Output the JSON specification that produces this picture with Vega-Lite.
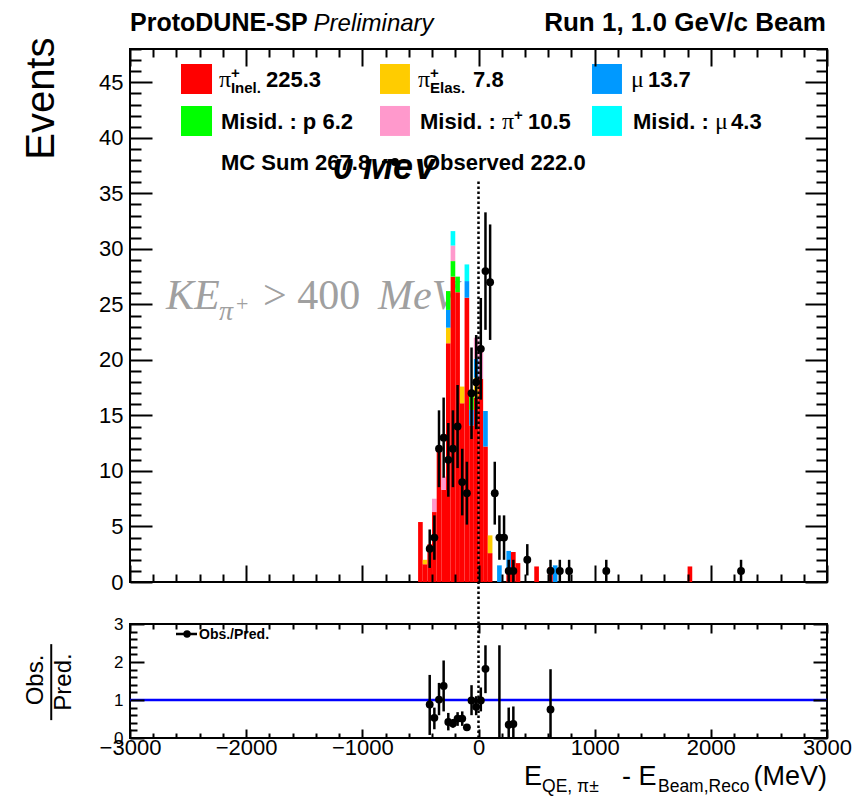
{
"$schema": "https://vega.github.io/schema/vega-lite/v6.json",
"background": "white",
"padding": {"left": 20, "top": 9, "right": 5, "bottom": 5},
"bounds": "flush",
"spacing": 42,
"config": {"font": "Liberation Sans", "view": {"stroke": "black", "strokeWidth": 2}},
"datasets": {
"one": [{}],
"mc": [
{"lo":-520,"hi":-480,"comp":"pi Inel","o":1,"v":5.4},
{"lo":-480,"hi":-440,"comp":"pi Inel","o":1,"v":1.6},
{"lo":-480,"hi":-440,"comp":"pi Elas","o":2,"v":0.4},
{"lo":-440,"hi":-400,"comp":"pi Inel","o":1,"v":3.4},
{"lo":-400,"hi":-360,"comp":"pi Inel","o":1,"v":6.3},
{"lo":-400,"hi":-360,"comp":"Misid pi","o":5,"v":1.2},
{"lo":-360,"hi":-320,"comp":"pi Inel","o":1,"v":11.9},
{"lo":-320,"hi":-280,"comp":"pi Inel","o":1,"v":8.3},
{"lo":-320,"hi":-280,"comp":"Misid pi","o":5,"v":1.2},
{"lo":-280,"hi":-240,"comp":"pi Inel","o":1,"v":21.5},
{"lo":-280,"hi":-240,"comp":"pi Elas","o":2,"v":1.4},
{"lo":-280,"hi":-240,"comp":"mu","o":3,"v":1.6},
{"lo":-280,"hi":-240,"comp":"Misid p","o":4,"v":1.7},
{"lo":-240,"hi":-200,"comp":"pi Inel","o":1,"v":27.5},
{"lo":-240,"hi":-200,"comp":"Misid p","o":4,"v":1.4},
{"lo":-240,"hi":-200,"comp":"Misid pi","o":5,"v":1.4},
{"lo":-240,"hi":-200,"comp":"Misid mu","o":6,"v":1.3},
{"lo":-200,"hi":-160,"comp":"pi Inel","o":1,"v":26.1},
{"lo":-200,"hi":-160,"comp":"Misid p","o":4,"v":1.4},
{"lo":-160,"hi":-120,"comp":"pi Inel","o":1,"v":16.1},
{"lo":-160,"hi":-120,"comp":"pi Elas","o":2,"v":1.5},
{"lo":-120,"hi":-80,"comp":"pi Inel","o":1,"v":25.6},
{"lo":-120,"hi":-80,"comp":"mu","o":3,"v":1.5},
{"lo":-120,"hi":-80,"comp":"Misid mu","o":6,"v":1.5},
{"lo":-80,"hi":-40,"comp":"pi Inel","o":1,"v":14.1},
{"lo":-80,"hi":-40,"comp":"mu","o":3,"v":1.4},
{"lo":-80,"hi":-40,"comp":"Misid p","o":4,"v":1.7},
{"lo":-40,"hi":0,"comp":"pi Inel","o":1,"v":16.6},
{"lo":-40,"hi":0,"comp":"pi Elas","o":2,"v":1.8},
{"lo":-40,"hi":0,"comp":"mu","o":3,"v":1.7},
{"lo":-40,"hi":0,"comp":"Misid pi","o":5,"v":1.9},
{"lo":0,"hi":40,"comp":"pi Inel","o":1,"v":18.3},
{"lo":0,"hi":40,"comp":"Misid pi","o":5,"v":2.9},
{"lo":40,"hi":80,"comp":"pi Inel","o":1,"v":12.2},
{"lo":40,"hi":80,"comp":"mu","o":3,"v":3.2},
{"lo":80,"hi":120,"comp":"pi Inel","o":1,"v":2.6},
{"lo":80,"hi":120,"comp":"pi Elas","o":2,"v":1.6},
{"lo":160,"hi":200,"comp":"mu","o":3,"v":1.5},
{"lo":240,"hi":280,"comp":"pi Inel","o":1,"v":1.0},
{"lo":240,"hi":280,"comp":"mu","o":3,"v":1.8},
{"lo":280,"hi":320,"comp":"pi Inel","o":1,"v":2.7},
{"lo":320,"hi":360,"comp":"pi Inel","o":1,"v":1.7},
{"lo":480,"hi":520,"comp":"pi Inel","o":1,"v":1.4},
{"lo":600,"hi":640,"comp":"pi Inel","o":1,"v":1.33},
{"lo":640,"hi":680,"comp":"mu","o":3,"v":1.5},
{"lo":1800,"hi":1840,"comp":"pi Inel","o":1,"v":1.4}
],
"obs": [
{"c":-420,"n":3,"lo":1.27,"hi":4.73},
{"c":-380,"n":4,"lo":2,"hi":6},
{"c":-340,"n":12,"lo":8.54,"hi":15.46},
{"c":-300,"n":13,"lo":9.39,"hi":16.61},
{"c":-260,"n":11,"lo":7.68,"hi":14.32},
{"c":-220,"n":12,"lo":8.54,"hi":15.46},
{"c":-180,"n":14,"lo":10.26,"hi":17.74},
{"c":-140,"n":9,"lo":6,"hi":12},
{"c":-100,"n":8,"lo":5.17,"hi":10.83},
{"c":-60,"n":17,"lo":12.88,"hi":21.12},
{"c":-20,"n":18,"lo":13.76,"hi":22.24},
{"c":20,"n":21,"lo":16.42,"hi":25.58},
{"c":60,"n":28,"lo":22.71,"hi":33.29},
{"c":100,"n":27,"lo":21.8,"hi":32.2},
{"c":140,"n":8,"lo":5.17,"hi":10.83},
{"c":180,"n":4,"lo":2,"hi":6},
{"c":220,"n":4,"lo":2,"hi":6},
{"c":260,"n":1,"lo":0,"hi":2},
{"c":300,"n":1,"lo":0,"hi":2},
{"c":420,"n":2,"lo":0.59,"hi":3.41},
{"c":620,"n":1,"lo":0,"hi":2},
{"c":700,"n":1,"lo":0,"hi":2},
{"c":780,"n":1,"lo":0,"hi":2},
{"c":1100,"n":1,"lo":0,"hi":2},
{"c":2260,"n":1,"lo":0,"hi":2}
],
"ratio": [
{"c":-420,"r":0.88,"lo":0.08,"hi":1.66},
{"c":-380,"r":0.53,"lo":0.23,"hi":0.8},
{"c":-340,"r":1.01,"lo":0.6,"hi":1.45},
{"c":-300,"r":1.37,"lo":0.7,"hi":2.04},
{"c":-260,"r":0.42,"lo":0.2,"hi":0.66},
{"c":-220,"r":0.38,"lo":0.27,"hi":0.5},
{"c":-180,"r":0.51,"lo":0.32,"hi":0.68},
{"c":-140,"r":0.51,"lo":0.32,"hi":0.7},
{"c":-100,"r":0.28,"lo":0.2,"hi":0.36},
{"c":-60,"r":0.99,"lo":0.6,"hi":1.39},
{"c":-20,"r":0.82,"lo":0.6,"hi":1.1},
{"c":20,"r":0.99,"lo":0.7,"hi":1.33},
{"c":60,"r":1.82,"lo":1.18,"hi":2.44},
{"c":180,"r":null,"lo":0,"hi":2.44},
{"c":260,"r":0.35,"lo":0,"hi":0.8},
{"c":300,"r":0.37,"lo":0,"hi":0.83},
{"c":620,"r":0.75,"lo":0,"hi":1.81}
]
},
"vconcat": [
{
"width": 697, "height": 533,
"resolve": {"axis": {"x": "independent", "y": "independent"}},
"layer": [
{"data":{"name":"one"},"mark":{"type":"text","text":"KE","align":"left","baseline":"alphabetic","font":"Liberation Serif","fontStyle":"italic","fontSize":42,"color":"#a0a0a0"},"encoding":{"x":{"datum":-2690,"axis":null},"y":{"datum":24.59,"axis":null}}},
{"data":{"name":"one"},"mark":{"type":"text","text":"π","align":"left","baseline":"alphabetic","font":"Liberation Serif","fontStyle":"italic","fontSize":28,"color":"#a0a0a0"},"encoding":{"x":{"datum":-2234,"axis":null},"y":{"datum":23.6,"axis":null}}},
{"data":{"name":"one"},"mark":{"type":"text","text":"+","align":"left","baseline":"alphabetic","font":"Liberation Serif","fontSize":22,"color":"#a0a0a0"},"encoding":{"x":{"datum":-2087,"axis":null},"y":{"datum":24.41,"axis":null}}},
{"data":{"name":"one"},"mark":{"type":"text","text":"> 400","align":"left","baseline":"alphabetic","font":"Liberation Serif","fontSize":42,"color":"#a0a0a0"},"encoding":{"x":{"datum":-1855,"axis":null},"y":{"datum":24.59,"axis":null}}},
{"data":{"name":"one"},"mark":{"type":"text","text":"MeV","align":"left","baseline":"alphabetic","font":"Liberation Serif","fontStyle":"italic","fontSize":42,"color":"#a0a0a0"},"encoding":{"x":{"datum":-865,"axis":null},"y":{"datum":24.59,"axis":null}}},
{"data":{"name":"mc"},
 "transform":[{"stack":"v","groupby":["lo"],"sort":[{"field":"o"}],"as":["s0","s1"]}],
 "mark":{"type":"rect"},
 "encoding":{
  "x":{"field":"lo","type":"quantitative","scale":{"domain":[-3000,3000],"nice":false,"zero":false},
       "axis":{"orient":"bottom","values":[-3000,-2800,-2600,-2400,-2200,-2000,-1800,-1600,-1400,-1200,-1000,-800,-600,-400,-200,0,200,400,600,800,1000,1200,1400,1600,1800,2000,2200,2400,2600,2800,3000],"labels":false,"domain":false,"grid":false,"tickColor":"black","tickWidth":2,"tickSize":{"condition":{"test":"datum.value % 1000 === 0","value":-17},"value":-8},"title":null,"zindex":1}},
  "x2":{"field":"hi"},
  "y":{"field":"s0","type":"quantitative","scale":{"domain":[0,48],"nice":false,"zero":false},
       "axis":{"orient":"left","values":[0,1,2,3,4,5,6,7,8,9,10,11,12,13,14,15,16,17,18,19,20,21,22,23,24,25,26,27,28,29,30,31,32,33,34,35,36,37,38,39,40,41,42,43,44,45,46,47,48],"labelExpr":"datum.value % 5 === 0 ? datum.label : ''","labelFontSize":22,"labelColor":"black","labelPadding":29,"labelOverlap":false,"labelFlush":false,"domain":false,"grid":false,"tickColor":"black","tickWidth":2,"tickSize":{"condition":{"test":"datum.value % 5 === 0","value":-22},"value":-11},"title":"Events","titleFontSize":40,"titleFontWeight":"normal","titleColor":"black","titleAnchor":"end","titlePadding":37,"titleY":-12,"zindex":1}},
  "y2":{"field":"s1"},
  "color":{"field":"comp","type":"nominal","scale":{"domain":["pi Inel","pi Elas","mu","Misid p","Misid pi","Misid mu"],"range":["#ff0000","#ffcc00","#0099ff","#00ff00","#ff99cc","#00ffff"]},"legend":null}
 }},
{"data":{"name":"one"},"mark":{"type":"rule","strokeDash":[2.5,2.5],"strokeWidth":2.5,"color":"black"},"encoding":{"x":{"datum":0,"axis":null},"y":{"datum":-3.78,"axis":null},"y2":{"datum":36.3}}},
{"data":{"name":"obs"},"mark":{"type":"rule","strokeWidth":2.5,"color":"black"},"encoding":{"x":{"field":"c","type":"quantitative","axis":null},"y":{"field":"lo","type":"quantitative","axis":null},"y2":{"field":"hi"}}},
{"data":{"name":"obs"},"mark":{"type":"circle","size":62,"opacity":1,"color":"black"},
 "encoding":{
  "x":{"field":"c","type":"quantitative","axis":{"orient":"top","values":[-3000,-2800,-2600,-2400,-2200,-2000,-1800,-1600,-1400,-1200,-1000,-800,-600,-400,-200,0,200,400,600,800,1000,1200,1400,1600,1800,2000,2200,2400,2600,2800,3000],"labels":false,"domain":false,"grid":false,"tickColor":"black","tickWidth":2,"tickSize":{"condition":{"test":"datum.value % 1000 === 0","value":-17},"value":-8},"title":null,"zindex":1}},
  "y":{"field":"n","type":"quantitative","axis":{"orient":"right","values":[0,1,2,3,4,5,6,7,8,9,10,11,12,13,14,15,16,17,18,19,20,21,22,23,24,25,26,27,28,29,30,31,32,33,34,35,36,37,38,39,40,41,42,43,44,45,46,47,48],"labels":false,"domain":false,"grid":false,"tickColor":"black","tickWidth":2,"tickSize":{"condition":{"test":"datum.value % 5 === 0","value":-22},"value":-11},"title":null,"zindex":1}}
 }},
{"data":{"name":"one"},"mark":{"type":"text","text":"0 MeV","align":"left","baseline":"alphabetic","fontSize":36,"fontWeight":"bold","fontStyle":"italic","color":"black"},"encoding":{"x":{"datum":-1252,"axis":null},"y":{"datum":36.29,"axis":null}}},
{"data":{"name":"one"},"mark":{"type":"rect","color":"white"},"encoding":{"x":{"datum":-2700,"axis":null},"x2":{"datum":2900},"y":{"datum":38.1,"axis":null},"y2":{"datum":47.6}}},
{"data":{"name":"one"},"mark":{"type":"rect","color":"#ff0000"},"encoding":{"x":{"datum":-2561,"axis":null},"x2":{"datum":-2294},"y":{"datum":43.95,"axis":null},"y2":{"datum":46.65}}},
{"data":{"name":"one"},"mark":{"type":"rect","color":"#ffcc00"},"encoding":{"x":{"datum":-848,"axis":null},"x2":{"datum":-590},"y":{"datum":43.95,"axis":null},"y2":{"datum":46.65}}},
{"data":{"name":"one"},"mark":{"type":"rect","color":"#0099ff"},"encoding":{"x":{"datum":977,"axis":null},"x2":{"datum":1235},"y":{"datum":43.95,"axis":null},"y2":{"datum":46.65}}},
{"data":{"name":"one"},"mark":{"type":"rect","color":"#00ff00"},"encoding":{"x":{"datum":-2561,"axis":null},"x2":{"datum":-2294},"y":{"datum":40.17,"axis":null},"y2":{"datum":42.87}}},
{"data":{"name":"one"},"mark":{"type":"rect","color":"#ff99cc"},"encoding":{"x":{"datum":-848,"axis":null},"x2":{"datum":-590},"y":{"datum":40.17,"axis":null},"y2":{"datum":42.87}}},
{"data":{"name":"one"},"mark":{"type":"rect","color":"#00ffff"},"encoding":{"x":{"datum":977,"axis":null},"x2":{"datum":1235},"y":{"datum":40.17,"axis":null},"y2":{"datum":42.87}}},
{"data":{"name":"one"},"mark":{"type":"text","text":"π","align":"left","baseline":"alphabetic","font":"Liberation Serif","fontSize":24,"color":"black"},"encoding":{"x":{"datum":-2234,"axis":null},"y":{"datum":44.58,"axis":null}}},
{"data":{"name":"one"},"mark":{"type":"text","text":"+","align":"left","baseline":"alphabetic","fontSize":15,"fontWeight":"bold","color":"black"},"encoding":{"x":{"datum":-2131,"axis":null},"y":{"datum":45.39,"axis":null}}},
{"data":{"name":"one"},"mark":{"type":"text","text":"Inel.","align":"left","baseline":"alphabetic","fontSize":15,"fontWeight":"bold","color":"black"},"encoding":{"x":{"datum":-2131,"axis":null},"y":{"datum":44.04,"axis":null}}},
{"data":{"name":"one"},"mark":{"type":"text","text":"225.3","align":"left","baseline":"alphabetic","fontSize":22,"fontWeight":"bold","color":"black"},"encoding":{"x":{"datum":-1829,"axis":null},"y":{"datum":44.58,"axis":null}}},
{"data":{"name":"one"},"mark":{"type":"text","text":"π","align":"left","baseline":"alphabetic","font":"Liberation Serif","fontSize":24,"color":"black"},"encoding":{"x":{"datum":-521,"axis":null},"y":{"datum":44.58,"axis":null}}},
{"data":{"name":"one"},"mark":{"type":"text","text":"+","align":"left","baseline":"alphabetic","fontSize":15,"fontWeight":"bold","color":"black"},"encoding":{"x":{"datum":-417,"axis":null},"y":{"datum":45.39,"axis":null}}},
{"data":{"name":"one"},"mark":{"type":"text","text":"Elas.","align":"left","baseline":"alphabetic","fontSize":15,"fontWeight":"bold","color":"black"},"encoding":{"x":{"datum":-417,"axis":null},"y":{"datum":44.04,"axis":null}}},
{"data":{"name":"one"},"mark":{"type":"text","text":"7.8","align":"left","baseline":"alphabetic","fontSize":22,"fontWeight":"bold","color":"black"},"encoding":{"x":{"datum":-47,"axis":null},"y":{"datum":44.58,"axis":null}}},
{"data":{"name":"one"},"mark":{"type":"text","text":"μ","align":"left","baseline":"alphabetic","font":"Liberation Serif","fontSize":24,"color":"black"},"encoding":{"x":{"datum":1313,"axis":null},"y":{"datum":44.58,"axis":null}}},
{"data":{"name":"one"},"mark":{"type":"text","text":"13.7","align":"left","baseline":"alphabetic","fontSize":22,"fontWeight":"bold","color":"black"},"encoding":{"x":{"datum":1459,"axis":null},"y":{"datum":44.58,"axis":null}}},
{"data":{"name":"one"},"mark":{"type":"text","text":"Misid. : p 6.2","align":"left","baseline":"alphabetic","fontSize":22,"fontWeight":"bold","color":"black"},"encoding":{"x":{"datum":-2217,"axis":null},"y":{"datum":40.8,"axis":null}}},
{"data":{"name":"one"},"mark":{"type":"text","text":"Misid. :","align":"left","baseline":"alphabetic","fontSize":22,"fontWeight":"bold","color":"black"},"encoding":{"x":{"datum":-504,"axis":null},"y":{"datum":40.8,"axis":null}}},
{"data":{"name":"one"},"mark":{"type":"text","text":"π","align":"left","baseline":"alphabetic","font":"Liberation Serif","fontSize":24,"color":"black"},"encoding":{"x":{"datum":202,"axis":null},"y":{"datum":40.8,"axis":null}}},
{"data":{"name":"one"},"mark":{"type":"text","text":"+","align":"left","baseline":"alphabetic","fontSize":15,"fontWeight":"bold","color":"black"},"encoding":{"x":{"datum":306,"axis":null},"y":{"datum":41.61,"axis":null}}},
{"data":{"name":"one"},"mark":{"type":"text","text":"10.5","align":"left","baseline":"alphabetic","fontSize":22,"fontWeight":"bold","color":"black"},"encoding":{"x":{"datum":426,"axis":null},"y":{"datum":40.8,"axis":null}}},
{"data":{"name":"one"},"mark":{"type":"text","text":"Misid. :","align":"left","baseline":"alphabetic","fontSize":22,"fontWeight":"bold","color":"black"},"encoding":{"x":{"datum":1330,"axis":null},"y":{"datum":40.8,"axis":null}}},
{"data":{"name":"one"},"mark":{"type":"text","text":"μ","align":"left","baseline":"alphabetic","font":"Liberation Serif","fontSize":24,"color":"black"},"encoding":{"x":{"datum":2036,"axis":null},"y":{"datum":40.8,"axis":null}}},
{"data":{"name":"one"},"mark":{"type":"text","text":"4.3","align":"left","baseline":"alphabetic","fontSize":22,"fontWeight":"bold","color":"black"},"encoding":{"x":{"datum":2174,"axis":null},"y":{"datum":40.8,"axis":null}}},
{"data":{"name":"one"},"mark":{"type":"text","text":"MC Sum 267.8","align":"left","baseline":"alphabetic","fontSize":22,"fontWeight":"bold","color":"black"},"encoding":{"x":{"datum":-2217,"axis":null},"y":{"datum":37.1,"axis":null}}},
{"data":{"name":"one"},"mark":{"type":"rule","strokeWidth":2.5,"color":"black"},"encoding":{"x":{"datum":-831,"axis":null},"x2":{"datum":-607},"y":{"datum":37.82,"axis":null}}},
{"data":{"name":"one"},"mark":{"type":"circle","size":62,"opacity":1,"color":"black"},"encoding":{"x":{"datum":-719,"axis":null},"y":{"datum":37.82,"axis":null}}},
{"data":{"name":"one"},"mark":{"type":"text","text":"Observed 222.0","align":"left","baseline":"alphabetic","fontSize":22,"fontWeight":"bold","color":"black"},"encoding":{"x":{"datum":-478,"axis":null},"y":{"datum":37.1,"axis":null}}},
{"data":{"name":"one"},"mark":{"type":"text","text":"ProtoDUNE-SP","align":"left","baseline":"alphabetic","fontSize":25,"fontWeight":"bold","color":"black"},"encoding":{"x":{"datum":-3000,"axis":null},"y":{"datum":49.62,"axis":null}}},
{"data":{"name":"one"},"mark":{"type":"text","text":"Preliminary","align":"left","baseline":"alphabetic","fontSize":24,"fontStyle":"italic","color":"black"},"encoding":{"x":{"datum":-1420,"axis":null},"y":{"datum":49.62,"axis":null}}},
{"data":{"name":"one"},"mark":{"type":"text","text":"Run 1, 1.0 GeV/c Beam","align":"right","baseline":"alphabetic","fontSize":26,"fontWeight":"bold","color":"black"},"encoding":{"x":{"datum":2991,"axis":null},"y":{"datum":49.62,"axis":null}}}
]
},
{
"width": 697, "height": 114,
"resolve": {"axis": {"x": "independent", "y": "independent"}},
"layer": [
{"data":{"name":"one"},"mark":{"type":"rule","color":"#0000ff","strokeWidth":2.5},"encoding":{"y":{"datum":1,"axis":null}}},
{"data":{"name":"one"},"mark":{"type":"rule","strokeDash":[2.5,2.5],"strokeWidth":2.5,"color":"black"},"encoding":{"x":{"datum":0,"axis":null},"y":{"datum":0,"axis":null},"y2":{"datum":3}}},
{"data":{"name":"ratio"},"mark":{"type":"rule","strokeWidth":2.5,"color":"black"},
 "encoding":{
  "x":{"field":"c","type":"quantitative","scale":{"domain":[-3000,3000],"nice":false,"zero":false},
       "axis":{"orient":"bottom","values":[-3000,-2800,-2600,-2400,-2200,-2000,-1800,-1600,-1400,-1200,-1000,-800,-600,-400,-200,0,200,400,600,800,1000,1200,1400,1600,1800,2000,2200,2400,2600,2800,3000],"format":"d","labelExpr":"datum.value % 1000 === 0 ? datum.label : ''","labelFontSize":22,"labelColor":"black","labelPadding":8,"labelOverlap":false,"labelFlush":false,"domain":false,"grid":false,"tickColor":"black","tickWidth":2,"tickSize":{"condition":{"test":"datum.value % 1000 === 0","value":-9},"value":-5},"title":null,"zindex":1}},
  "y":{"field":"lo","type":"quantitative","scale":{"domain":[0,3],"nice":false,"zero":false},
       "axis":{"orient":"left","values":[0,0.2,0.4,0.6,0.8,1,1.2,1.4,1.6,1.8,2,2.2,2.4,2.6,2.8,3],"labelExpr":"abs(datum.value - round(datum.value)) < 0.01 ? format(datum.value, 'd') : ''","labelFontSize":17,"labelColor":"black","labelPadding":21,"labelOverlap":false,"labelFlush":false,"domain":false,"grid":false,"tickColor":"black","tickWidth":2,"tickSize":{"condition":{"test":"abs(datum.value - round(datum.value)) < 0.01","value":-14},"value":-7},"title":null,"zindex":1}},
  "y2":{"field":"hi"}
 }},
{"data":{"name":"ratio"},"mark":{"type":"circle","size":62,"opacity":1,"color":"black"},
 "encoding":{
  "x":{"field":"c","type":"quantitative","axis":{"orient":"top","values":[-3000,-2800,-2600,-2400,-2200,-2000,-1800,-1600,-1400,-1200,-1000,-800,-600,-400,-200,0,200,400,600,800,1000,1200,1400,1600,1800,2000,2200,2400,2600,2800,3000],"labels":false,"domain":false,"grid":false,"tickColor":"black","tickWidth":2,"tickSize":{"condition":{"test":"datum.value % 1000 === 0","value":-9},"value":-5},"title":null,"zindex":1}},
  "y":{"field":"r","type":"quantitative","axis":{"orient":"right","values":[0,0.2,0.4,0.6,0.8,1,1.2,1.4,1.6,1.8,2,2.2,2.4,2.6,2.8,3],"labels":false,"domain":false,"grid":false,"tickColor":"black","tickWidth":2,"tickSize":{"condition":{"test":"abs(datum.value - round(datum.value)) < 0.01","value":-14},"value":-7},"title":null,"zindex":1}}
 }},
{"data":{"name":"one"},"mark":{"type":"rule","strokeWidth":2.5,"color":"black"},"encoding":{"x":{"datum":-2604,"axis":null},"x2":{"datum":-2423},"y":{"datum":2.737,"axis":null}}},
{"data":{"name":"one"},"mark":{"type":"circle","size":55,"opacity":1,"color":"black"},"encoding":{"x":{"datum":-2509,"axis":null},"y":{"datum":2.737,"axis":null}}},
{"data":{"name":"one"},"mark":{"type":"text","text":"Obs./Pred.","align":"left","baseline":"alphabetic","fontSize":14,"fontWeight":"bold","color":"black"},"encoding":{"x":{"datum":-2406,"axis":null},"y":{"datum":2.605,"axis":null}}},
{"data":{"name":"one"},"mark":{"type":"text","text":"E","align":"left","baseline":"alphabetic","fontSize":27,"color":"black"},"encoding":{"x":{"datum":392,"axis":null},"y":{"datum":-1.237,"axis":null}}},
{"data":{"name":"one"},"mark":{"type":"text","text":"QE, π±","align":"left","baseline":"alphabetic","fontSize":17.5,"color":"black"},"encoding":{"x":{"datum":547,"axis":null},"y":{"datum":-1.421,"axis":null}}},
{"data":{"name":"one"},"mark":{"type":"text","text":"- E","align":"left","baseline":"alphabetic","fontSize":27,"color":"black"},"encoding":{"x":{"datum":1235,"axis":null},"y":{"datum":-1.237,"axis":null}}},
{"data":{"name":"one"},"mark":{"type":"text","text":"Beam,Reco","align":"left","baseline":"alphabetic","fontSize":17.5,"color":"black"},"encoding":{"x":{"datum":1545,"axis":null},"y":{"datum":-1.421,"axis":null}}},
{"data":{"name":"one"},"mark":{"type":"text","text":"(MeV)","align":"right","baseline":"alphabetic","fontSize":27,"color":"black"},"encoding":{"x":{"datum":3000,"axis":null},"y":{"datum":-1.237,"axis":null}}},
{"data":{"name":"one"},"mark":{"type":"text","text":"Obs.","angle":270,"align":"center","baseline":"middle","fontSize":24,"color":"black"},"encoding":{"x":{"datum":-3809,"axis":null},"y":{"datum":1.526,"axis":null}}},
{"data":{"name":"one"},"mark":{"type":"text","text":"Pred.","angle":270,"align":"center","baseline":"middle","fontSize":24,"color":"black"},"encoding":{"x":{"datum":-3568,"axis":null},"y":{"datum":1.474,"axis":null}}},
{"data":{"name":"one"},"mark":{"type":"rule","strokeWidth":2,"color":"black"},"encoding":{"x":{"datum":-3678,"axis":null},"y":{"datum":0.47,"axis":null},"y2":{"datum":2.47}}}
]
}
]
}
